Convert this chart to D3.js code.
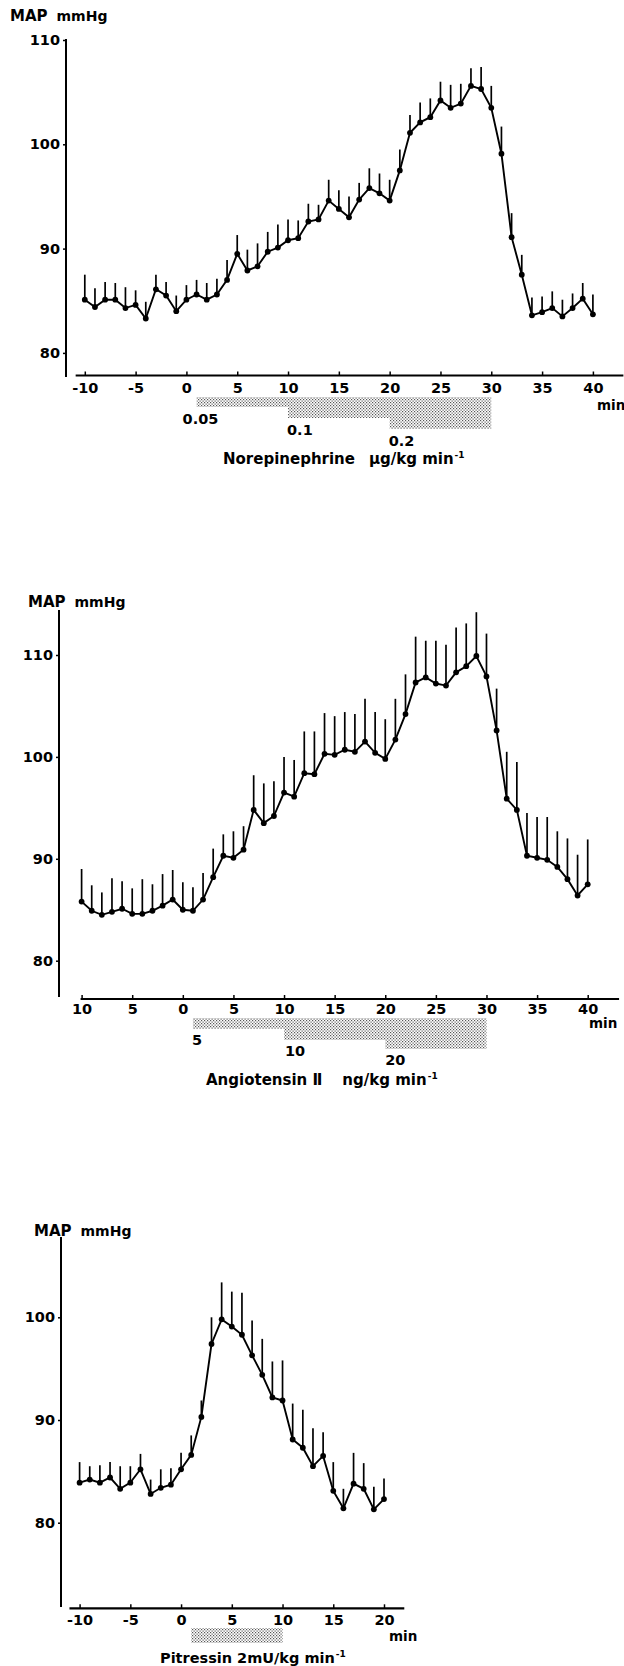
<!DOCTYPE html>
<html><head><meta charset="utf-8">
<script src="https://cdn.jsdelivr.net/npm/d3@7"></script>
<style>
body{margin:0;background:#fff}
svg text{font-family:"DejaVu Sans",sans-serif;font-weight:bold;fill:#000}
</style>
</head><body>
<svg id="c" width="624" height="1666"></svg>
<script>
// ---------- DATA ----------
const minutesLong = [-10,-9,-8,-7,-6,-5,-4,-3,-2,-1,0,1,2,3,4,5,6,7,8,9,10,11,12,13,14,15,16,17,18,19,20,21,22,23,24,25,26,27,28,29,30,31,32,33,34,35,36,37,38,39,40];
const minutesShort = [-10,-9,-8,-7,-6,-5,-4,-3,-2,-1,0,1,2,3,4,5,6,7,8,9,10,11,12,13,14,15,16,17,18,19,20];

// Norepinephrine: mean MAP and upper end of error bar (mmHg)
const neMean = [85.1,84.4,85.1,85.1,84.3,84.6,83.3,86.1,85.5,84.0,85.1,85.6,85.1,85.6,87.0,89.5,87.9,88.3,89.7,90.1,90.8,91.0,92.6,92.8,94.6,93.8,93.0,94.7,95.8,95.3,94.6,97.5,101.1,102.1,102.6,104.2,103.5,103.9,105.6,105.3,103.5,99.1,91.1,87.5,83.6,83.9,84.3,83.5,84.3,85.2,83.7];
const neUpper = [87.5,86.2,86.8,86.7,86.3,86.0,84.9,87.5,86.8,85.5,86.5,87.0,86.7,87.1,88.9,91.3,89.9,90.5,91.6,92.3,92.8,92.7,94.3,94.2,96.6,95.6,95.0,96.3,97.7,97.2,96.6,99.5,102.8,104.0,104.4,106.0,105.7,105.8,107.3,107.4,105.6,101.7,93.4,89.4,85.3,85.4,85.9,85.1,85.7,86.7,85.6];

// Angiotensin II
const angMean = [85.8,84.9,84.5,84.8,85.1,84.6,84.6,84.9,85.4,86.0,85.0,84.9,86.0,88.2,90.3,90.1,90.9,94.8,93.5,94.2,96.5,96.1,98.4,98.3,100.3,100.2,100.7,100.5,101.5,100.4,99.8,101.7,104.2,107.3,107.8,107.2,107.0,108.3,108.9,109.9,107.9,102.6,95.9,94.8,90.3,90.1,89.9,89.2,88.0,86.4,87.5];
const angUpper = [89.0,87.4,86.7,88.1,87.8,87.1,88.0,87.5,88.5,88.9,87.7,87.2,88.6,91.0,92.4,92.7,93.2,98.2,97.4,97.6,100.0,99.7,102.5,102.5,104.3,104.0,104.4,104.2,105.7,104.4,103.7,105.7,108.1,111.8,111.4,111.4,111.0,112.7,113.1,114.2,112.1,106.7,100.5,99.5,94.5,94.1,94.1,92.7,92.0,90.4,91.9];

// Pitressin
const pitMean = [83.9,84.2,83.9,84.4,83.3,83.9,85.2,82.8,83.4,83.7,85.2,86.6,90.3,97.4,99.8,99.1,98.3,96.3,94.4,92.2,91.9,88.1,87.3,85.5,86.5,83.1,81.4,83.8,83.3,81.3,82.3];
const pitUpper = [85.9,85.5,85.6,85.9,85.5,85.5,86.7,84.2,85.2,85.3,86.8,88.5,91.9,100.0,103.4,102.5,102.4,99.7,97.9,95.7,95.8,91.6,91.0,89.2,88.8,85.9,83.3,86.8,85.8,83.5,84.3];

// Axis ticks
const yTicks1 = [80,90,100,110];
const yTicks2 = [80,90,100,110];
const yTicks3 = [80,90,100];
const xTicksLong = [-10,-5,0,5,10,15,20,25,30,35,40];
const xLabels1 = ["-10","-5","0","5","10","15","20","25","30","35","40"];
const xLabels2 = ["10","5","0","5","10","15","20","25","30","35","40"];
const xTicksShort = [-10,-5,0,5,10,15,20];
const xLabels3 = ["-10","-5","0","5","10","15","20"];

// Infusions (min)
const neDoseLabels = ["0.05","0.1","0.2"];
const neDoseStart = [1,10,20];
const neDoseEnd = [30,30,30];
const angDoseLabels = ["5","10","20"];
const angDoseStart = [1,10,20];
const angDoseEnd = [30,30,30];
const pitDoseLabels = [""];
const pitDoseStart = [1];
const pitDoseEnd = [10];

// Captions (drug, unit)
const neCaption = ["Norepinephrine", "\u00b5g/kg min"];
const angCaption = ["Angiotensin \u2161", "ng/kg min"];
const pitCaption = ["Pitressin", "2mU/kg min"];

// ---------- DRAW ----------
const svg = d3.select("#c");
const defs = svg.append("defs");
const pat = defs.append("pattern").attr("id","stip").attr("width",3).attr("height",3)
  .attr("patternUnits","userSpaceOnUse");
pat.append("rect").attr("width",3).attr("height",3).attr("fill","#fff");
pat.append("rect").attr("x",0).attr("y",0).attr("width",1.2).attr("height",1.2).attr("fill","#555");
pat.append("rect").attr("x",1.5).attr("y",1.5).attr("width",1.2).attr("height",1.2).attr("fill","#555");

function panel(c){
  const g = svg.append("g");
  const x = d3.scaleLinear().domain([c.minutes[0], c.minutes[c.minutes.length-1]]).range(c.xr);
  const y = d3.scaleLinear().domain([c.yTicks[0], c.yTicks[c.yTicks.length-1]]).range(c.yr);

  // y axis
  g.append("line").attr("x1",c.yAxisX).attr("x2",c.yAxisX)
    .attr("y1",c.yAxisTop).attr("y2",c.yAxisBottom).attr("stroke","#000").attr("stroke-width",2);
  const ya = g.append("g").attr("transform",`translate(${c.yAxisX},0)`)
    .call(d3.axisLeft(y).tickValues(c.yTicks).tickSize(3).tickPadding(3).tickFormat(d3.format("d")));
  ya.select(".domain").remove();
  ya.selectAll("line").attr("stroke-width",1.5);
  ya.selectAll("text").attr("font-size",14.5);
  ya.attr("font-family",null).attr("font-size",null);

  // x axis
  g.append("line").attr("x1",x(c.xAxisFrom)).attr("x2",x(c.xAxisTo))
    .attr("y1",c.xAxisY).attr("y2",c.xAxisY).attr("stroke","#000").attr("stroke-width",2.2);
  const xa = g.append("g").attr("transform",`translate(0,${c.xAxisY})`)
    .call(d3.axisBottom(x).tickValues(c.xTicks).tickSize(-4).tickPadding(c.xPad)
      .tickFormat((d,i)=>c.xLabels[i]));
  xa.select(".domain").remove();
  xa.selectAll("line").attr("stroke-width",1.5);
  xa.selectAll("text").attr("font-size",14.5);
  xa.attr("font-family",null).attr("font-size",null);

  g.append("text").attr("x",c.minX).attr("y",c.minY).attr("font-size",13.5).text("min");

  // MAP mmHg
  const t = g.append("text").attr("x",c.mapX).attr("y",c.mapY).attr("font-size",15);
  t.append("tspan").text("MAP");
  t.append("tspan").attr("dx",9).attr("font-size",14).text("mmHg");

  // infusion bands
  c.doseStart.forEach((s,i)=>{
    g.append("rect").attr("x",x(s)).attr("y",c.bandRows[i][0])
      .attr("width",x(c.doseEnd[i])-x(s)).attr("height",c.bandRows[i][1]-c.bandRows[i][0])
      .attr("fill","url(#stip)");
    if(c.doseLabels[i]){
      g.append("text").attr("x",x(s)+c.labelDx[i]).attr("y",c.bandRows[i][1]+c.labelDy)
        .attr("font-size",14.5).text(c.doseLabels[i]);
    }
  });

  // caption
  const cap = g.append("text").attr("x",c.capX).attr("y",c.capY).attr("font-size",c.capSize);
  cap.append("tspan").text(c.caption[0]);
  cap.append("tspan").attr("dx",c.capGap).text(c.caption[1]);
  cap.append("tspan").attr("font-size",9).attr("dy",-6).attr("dx",1).text("-1");

  // error bars
  g.selectAll(null).data(c.mean).enter().append("line")
    .attr("x1",(d,i)=>x(c.minutes[i])).attr("x2",(d,i)=>x(c.minutes[i]))
    .attr("y1",d=>y(d)).attr("y2",(d,i)=>y(c.upper[i]))
    .attr("stroke","#000").attr("stroke-width",1.7);
  // line
  g.append("path").datum(c.mean)
    .attr("d",d3.line().x((d,i)=>x(c.minutes[i])).y(d=>y(d)))
    .attr("fill","none").attr("stroke","#000").attr("stroke-width",1.9);
  g.selectAll(null).data(c.mean).enter().append("circle")
    .attr("cx",(d,i)=>x(c.minutes[i])).attr("cy",d=>y(d)).attr("r",2.9).attr("fill","#000");
}

panel({
  minutes:minutesLong, mean:neMean, upper:neUpper,
  yTicks:yTicks1, xr:[84.8,592.9], yr:[352.9,40],
  yAxisX:66, yAxisTop:39, yAxisBottom:377,
  xAxisY:375.5, xAxisFrom:-10.9, xAxisTo:43, xTicks:xTicksLong, xLabels:xLabels1, xPad:7,
  minX:597, minY:410,
  mapX:10, mapY:21,
  doseStart:neDoseStart, doseEnd:neDoseEnd, doseLabels:neDoseLabels,
  bandRows:[[397,407],[407,418],[418,429]], labelDx:[-14,-1,-1], labelDy:17,
  caption:neCaption, capX:223, capY:464, capSize:15, capGap:14
});

panel({
  minutes:minutesLong, mean:angMean, upper:angUpper,
  yTicks:yTicks2, xr:[81.6,587.7], yr:[960.7,655],
  yAxisX:59, yAxisTop:610, yAxisBottom:997,
  xAxisY:999, xAxisFrom:-10.1, xAxisTo:43.1, xTicks:xTicksLong, xLabels:xLabels2, xPad:5,
  minX:589, minY:1028,
  mapX:28, mapY:607,
  doseStart:angDoseStart, doseEnd:angDoseEnd, doseLabels:angDoseLabels,
  bandRows:[[1018,1029],[1029,1040],[1040,1049]], labelDx:[-1,1,0], labelDy:16,
  caption:angCaption, capX:206, capY:1085, capSize:15, capGap:20
});

panel({
  minutes:minutesShort, mean:pitMean, upper:pitUpper,
  yTicks:yTicks3, xr:[79.6,384], yr:[1522.7,1317.3],
  yAxisX:61, yAxisTop:1237, yAxisBottom:1607,
  xAxisY:1608.3, xAxisFrom:-11, xAxisTo:22, xTicks:xTicksShort, xLabels:xLabels3, xPad:6,
  minX:389, minY:1641,
  mapX:34, mapY:1236,
  doseStart:pitDoseStart, doseEnd:pitDoseEnd, doseLabels:pitDoseLabels,
  bandRows:[[1628,1643]], labelDx:[0], labelDy:0,
  caption:pitCaption, capX:160, capY:1663, capSize:14.5, capGap:5
});
</script>
</body></html>
